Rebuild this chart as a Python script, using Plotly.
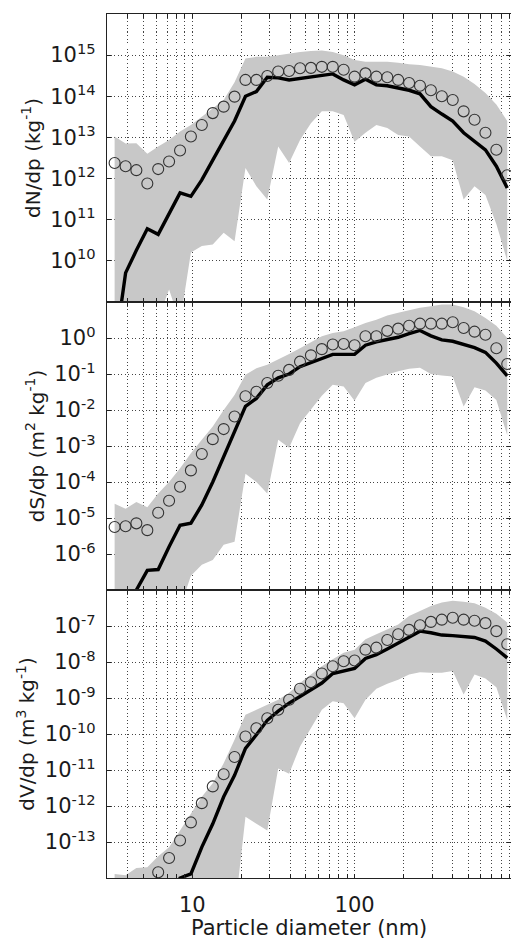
import math
import plotly.graph_objects as go
from plotly.subplots import make_subplots

# ---- data (particle diameter bins, nm) ----
dp = [3.32, 3.88, 4.52, 5.28, 6.16, 7.19, 8.40, 9.80, 11.44, 13.36, 15.60, 18.20,
      21.25, 24.81, 28.96, 33.81, 39.47, 46.07, 53.78, 62.79, 73.28, 85.55, 99.9,
      116.6, 136.1, 158.9, 185.5, 216.5, 252.7, 295.0, 344.4, 402.0, 469.3, 547.8,
      639.5, 746.5, 871.4]

# dN/dp (kg^-1)
n_line = [6.3e7, 5.1e9, 1.8e10, 6.0e10, 4.4e10, 1.4e11, 4.5e11, 3.7e11, 9.3e11, 2.8e12,
          8.7e12, 2.5e13, 1.0e14, 1.3e14, 2.9e14, 2.8e14, 2.5e14, 2.7e14, 2.9e14, 3.2e14,
          3.5e14, 2.5e14, 1.9e14, 2.6e14, 1.9e14, 1.8e14, 1.6e14, 1.4e14, 1.15e14, 5.6e13,
          3.7e13, 2.5e13, 1.3e13, 7.9e12, 5.0e12, 2.0e12, 5.9e11]
n_circ = [2.4e12, 2.0e12, 1.6e12, 7.6e11, 1.7e12, 2.6e12, 4.8e12, 1.05e13, 2.0e13, 3.9e13,
          5.6e13, 9.8e13, 2.5e14, 2.5e14, 3.1e14, 4.0e14, 4.1e14, 4.8e14, 4.9e14, 5.2e14,
          5.2e14, 4.4e14, 3.0e14, 3.6e14, 3.0e14, 2.9e14, 2.5e14, 2.1e14, 1.8e14, 1.4e14,
          1.0e14, 8.1e13, 4.3e13, 2.7e13, 1.3e13, 5.0e12, 1.2e12]
n_hi = [1.05e13, 7.1e12, 7.2e12, 4.0e12, 6.0e12, 8.7e12, 1.4e13, 2.0e13, 3.2e13, 5.1e13,
        8.1e13, 2.2e14, 8.3e14, 9.1e14, 9.1e14, 1.0e15, 1.1e15, 1.2e15, 1.26e15, 1.3e15,
        1.2e15, 1.0e15, 7.6e14, 6.9e14, 6.9e14, 6.9e14, 6.5e14, 6.0e14, 5.8e14, 5.2e14,
        4.8e14, 4.0e14, 3.0e14, 2.0e14, 1.2e14, 6.3e13, 2.5e13]
n_lo = [1e8, 1e8, 1e8, 1e8, 4e8, 2e9, 3.2e8, 1.6e10, 2.3e10, 2.5e10, 4.8e10, 3.0e10,
        1.8e12, 6.5e11, 3.1e11, 6.0e12, 2.4e12, 8.7e12, 2.2e13, 4.3e13, 4.3e13, 3.5e13,
        7.9e12, 1.3e13, 2.0e13, 1.7e13, 1.15e13, 1.05e13, 6.0e12, 3.5e12, 3.5e12, 2.8e12,
        3.1e11, 6.5e11, 4.0e11, 7.9e10, 1.0e10]

# dS/dp (m^2 kg^-1)
s_line = [6.3e-9, 2.5e-8, 1.0e-7, 3.5e-7, 3.7e-7, 1.6e-6, 6.3e-6, 7.2e-6, 2.3e-5, 1.0e-4,
          5.0e-4, 2.5e-3, 1.26e-2, 2.1e-2, 5.0e-2, 0.078, 0.10, 0.16, 0.21, 0.28,
          0.35, 0.35, 0.35, 0.63, 0.78, 0.91, 1.05, 1.32, 1.62, 1.15, 0.89, 0.81,
          0.68, 0.54, 0.40, 0.20, 0.089]
s_circ = [5.6e-6, 5.9e-6, 7.1e-6, 4.6e-6, 1.4e-5, 3.0e-5, 7.4e-5, 2.1e-4, 6.0e-4, 1.55e-3,
          2.95e-3, 6.6e-3, 0.024, 0.032, 0.056, 0.089, 0.13, 0.22, 0.33, 0.49,
          0.66, 0.68, 0.63, 1.12, 1.12, 1.58, 1.82, 2.19, 2.5, 2.5, 2.5, 2.75,
          1.9, 1.5, 1.23, 0.52, 0.19]
s_hi = [2.5e-5, 1.8e-5, 2.8e-5, 2.0e-5, 4.8e-5, 1.0e-4, 2.4e-4, 6.3e-4, 1.5e-3, 3.5e-3,
        0.01, 0.026, 0.095, 0.145, 0.18, 0.25, 0.36, 0.52, 0.76, 1.12,
        1.38, 1.55, 2.0, 2.6, 3.2, 4.2, 5.0, 6.0, 6.9, 7.6, 8.5, 8.5,
        7.2, 5.5, 3.6, 2.2, 1.0]
s_lo = [1e-8, 1e-8, 1e-8, 1e-8, 1e-8, 1e-8, 3.2e-8, 2.5e-7, 5.0e-7, 6.8e-7, 1.8e-6, 2.2e-6,
        1.7e-4, 1.0e-4, 4.8e-5, 1.5e-3, 8.9e-4, 4.3e-3, 0.0105, 0.025, 0.05, 0.045,
        0.018, 0.056, 0.079, 0.095, 0.12, 0.14, 0.15, 0.10, 0.091, 0.085, 0.0126,
        0.043, 0.035, 0.019, 0.002]

# dV/dp (m^3 kg^-1)
v_line = [3.2e-18, 1.6e-17, 7.9e-17, 3.2e-16, 4.0e-16, 2.0e-15, 1.0e-14, 1.3e-14, 7.2e-14,
          3.2e-13, 1.8e-12, 7.1e-12, 4.0e-11, 9.5e-11, 2.4e-10, 4.3e-10, 7.2e-10, 1.1e-9,
          1.7e-9, 2.6e-9, 4.8e-9, 5.6e-9, 6.6e-9, 1.26e-8, 1.6e-8, 2.3e-8, 3.4e-8, 5.0e-8,
          7.2e-8, 6.5e-8, 5.6e-8, 5.4e-8, 5.1e-8, 4.8e-8, 3.8e-8, 2.3e-8, 1.3e-8]
v_circ = [3.1e-15, 3.8e-15, 5.4e-15, 4.0e-15, 1.45e-14, 3.6e-14, 1.1e-13, 3.5e-13, 1.2e-12,
          3.5e-12, 7.6e-12, 2.3e-11, 8.5e-11, 1.45e-10, 2.75e-10, 4.7e-10, 8.9e-10, 1.8e-9,
          2.75e-9, 4.8e-9, 7.6e-9, 1.05e-8, 1.1e-8, 2.2e-8, 2.5e-8, 4.1e-8, 5.9e-8, 7.8e-8,
          1.05e-7, 1.3e-7, 1.5e-7, 1.7e-7, 1.5e-7, 1.4e-7, 1.2e-7, 7.2e-8, 3.1e-8]
v_hi = [1.3e-14, 1.2e-14, 1.9e-14, 2.0e-14, 4.0e-14, 7.2e-14, 2.1e-13, 6.2e-13, 1.8e-12,
        4.3e-12, 1.55e-11, 6.9e-11, 3.4e-10, 4.7e-10, 6.5e-10, 8.9e-10, 1.4e-9, 2.6e-9,
        4.5e-9, 7.6e-9, 1.2e-8, 1.8e-8, 2.2e-8, 4.3e-8, 5.9e-8, 8.1e-8, 1.1e-7, 1.9e-7,
        2.6e-7, 3.6e-7, 4.5e-7, 5.0e-7, 4.7e-7, 4.3e-7, 3.2e-7, 2.2e-7, 1.26e-7]
v_lo = [1e-15, 1e-15, 1e-15, 1e-15, 1e-15, 1e-15, 1e-15, 1e-15, 1e-15, 1e-15, 1e-15, 1e-15,
        5.0e-13, 3.2e-13, 2.1e-13, 1.1e-11, 7.9e-12, 4.5e-11, 1.4e-10, 4.7e-10, 8.1e-10,
        7.2e-10, 2.75e-10, 8.9e-10, 1.8e-9, 2.5e-9, 3.2e-9, 4.5e-9, 5.2e-9, 5.0e-9, 5.0e-9,
        5.6e-9, 1.26e-9, 4.5e-9, 3.5e-9, 2.0e-9, 2.5e-10]

# axis ticks
x_grid = [4, 5, 6, 7, 8, 9, 10, 20, 30, 40, 50, 60, 70, 80, 90, 100,
          200, 300, 400, 500, 600, 700, 800, 900]
x_labels = {10: "10", 100: "100"}
y1_exp = [10, 11, 12, 13, 14, 15]
y2_exp = [-6, -5, -4, -3, -2, -1, 0]
y3_exp = [-13, -12, -11, -10, -9, -8, -7]
y_titles = ["dN/dp (kg<sup>-1</sup>)",
            "dS/dp (m<sup>2</sup> kg<sup>-1</sup>)",
            "dV/dp (m<sup>3</sup> kg<sup>-1</sup>)"]
y_ranges = [[9, 16], [-7, 1], [-14, -6]]
x_title = "Particle diameter (nm)"

FONT = "DejaVu Sans, sans-serif"
TXT = "#1a1a1a"
BAND = "#c8c8c8"
GRID = "#444444"

fig = make_subplots(rows=3, cols=1, shared_xaxes=True, vertical_spacing=0)

panels = [(n_line, n_circ, n_hi, n_lo), (s_line, s_circ, s_hi, s_lo),
          (v_line, v_circ, v_hi, v_lo)]
for i, (ln, cc, hi, lo) in enumerate(panels, start=1):
    fig.add_trace(go.Scatter(x=dp + dp[::-1], y=hi + lo[::-1], mode="lines",
                             fill="toself", fillcolor=BAND, line=dict(width=0, color=BAND),
                             hoverinfo="skip"), row=i, col=1)
    fig.add_trace(go.Scatter(x=dp, y=ln, mode="lines",
                             line=dict(color="black", width=3.4)), row=i, col=1)
    fig.add_trace(go.Scatter(x=dp, y=cc, mode="markers",
                             marker=dict(symbol="circle-open", size=11, color="#333333",
                                         line=dict(width=1.1))),
                  row=i, col=1)

xt_text = [x_labels.get(v, "") for v in x_grid]
for i in range(1, 4):
    fig.update_xaxes(type="log", range=[math.log10(2.98), math.log10(919)],
                     tickvals=x_grid, ticktext=xt_text, showticklabels=(i == 3),
                     ticks="inside", ticklen=4, tickcolor="#222", tickwidth=1,
                     showgrid=True, gridcolor=GRID, griddash="1px,2.5px", gridwidth=1,
                     showline=True, linecolor="#222", linewidth=1.2, mirror="ticks",
                     zeroline=False, tickfont=dict(family=FONT, size=21, color=TXT),
                     ticklabelstandoff=8, automargin=False, row=i, col=1)

for i, exps in enumerate([y1_exp, y2_exp, y3_exp], start=1):
    fig.update_yaxes(type="log", range=y_ranges[i - 1],
                     tickvals=[10.0 ** e for e in exps],
                     ticktext=["10<sup>%d</sup>" % e for e in exps],
                     ticks="inside", ticklen=4, tickcolor="#222", tickwidth=1,
                     showgrid=True, gridcolor=GRID, griddash="1px,2.5px", gridwidth=1,
                     showline=True, linecolor="#222", linewidth=1.2, mirror="ticks",
                     zeroline=False, tickfont=dict(family=FONT, size=21, color=TXT),
                     ticklabelstandoff=6,
                     title=dict(text=y_titles[i - 1], standoff=4,
                                font=dict(family=FONT, size=20, color=TXT)),
                     row=i, col=1)

# x-axis title placed below the bottom panel
fig.add_annotation(text=x_title, xref="paper", yref="paper", x=0.5, y=-0.058,
                   xanchor="center", yanchor="middle", showarrow=False,
                   font=dict(family=FONT, size=21, color=TXT))

fig.update_layout(width=511, height=941, margin=dict(l=107, r=0, t=14, b=63),
                  plot_bgcolor="white", paper_bgcolor="white", showlegend=False,
                  hovermode=False)

# remove the page's default 8px body margin so the figure fills the window exactly
fig.write_html("out.html", config={"displayModeBar": False, "staticPlot": True},
               post_script="document.body.style.margin='0px';document.body.style.overflow='hidden';")
